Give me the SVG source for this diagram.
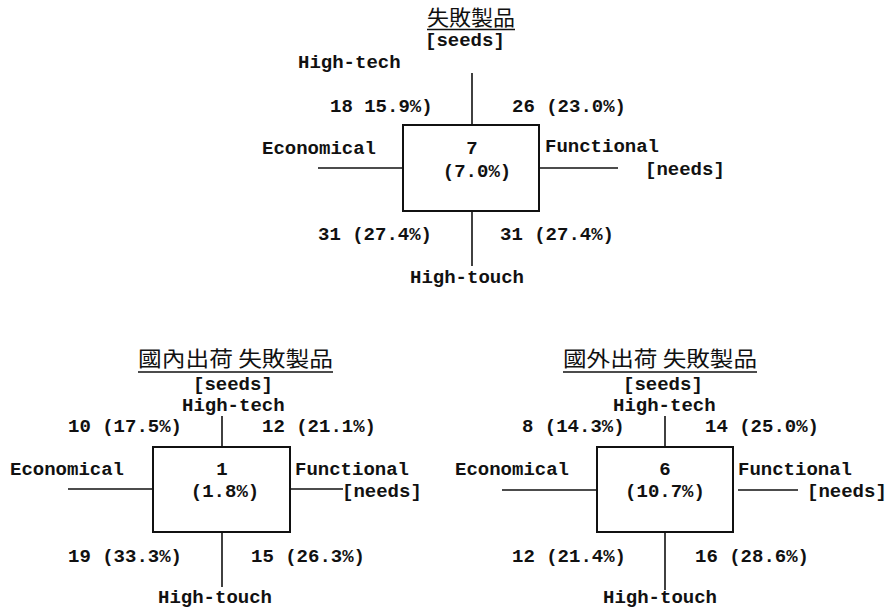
<svg xmlns="http://www.w3.org/2000/svg" width="887" height="609" viewBox="0 0 887 609">
<style>
.t{font-family:"Liberation Mono","DejaVu Sans Mono",monospace;font-size:19px;font-weight:bold;fill:#111}
.c{font-family:"Noto Sans CJK JP","Noto Sans CJK TC",sans-serif;font-size:21px;fill:#111}
.m{text-anchor:middle}
.box{fill:#fff;stroke:#111;stroke-width:2}
.ln{stroke:#111;stroke-width:1.6;fill:none}
</style>
<rect width="887" height="609" fill="#fff"/>

<g id="top">
<g id="top-title">
<text class="c" x="427" y="25" textLength="88" lengthAdjust="spacingAndGlyphs">失敗製品</text>
<line class="ln" x1="427" y1="29.5" x2="515" y2="29.5"/>
</g>
<g id="top-box">
<rect class="box" x="403" y="125" width="136" height="86"/>
<text class="t m" x="472" y="154">7</text>
<text class="t m" x="477" y="177">(7.0%)</text>
</g>
<g id="top-labels">
<text class="t" x="425" y="46">[seeds]</text>
<text class="t" x="298" y="68">High-tech</text>
<text class="t" x="330" y="112">18 15.9%)</text>
<text class="t" x="512" y="112">26 (23.0%)</text>
<text class="t" x="262" y="154">Economical</text>
<text class="t" x="545" y="152">Functional</text>
<text class="t" x="645" y="175">[needs]</text>
<text class="t" x="318" y="240">31 (27.4%)</text>
<text class="t" x="500" y="240">31 (27.4%)</text>
<text class="t" x="410" y="283">High-touch</text>
</g>
</g>

<g id="left">
<g id="left-title">
<text class="c" x="138" y="366" textLength="195" lengthAdjust="spacingAndGlyphs">國內出荷 失敗製品</text>
<line class="ln" x1="138" y1="372" x2="333" y2="372"/>
</g>
<g id="left-box">
<rect class="box" x="153" y="447" width="137" height="85"/>
<text class="t m" x="222" y="475">1</text>
<text class="t m" x="225" y="497">(1.8%)</text>
</g>
<g id="left-labels">
<text class="t" x="193" y="390">[seeds]</text>
<text class="t" x="182" y="411">High-tech</text>
<text class="t" x="68" y="432">10 (17.5%)</text>
<text class="t" x="262" y="432">12 (21.1%)</text>
<text class="t" x="10" y="475">Economical</text>
<text class="t" x="295" y="475">Functional</text>
<text class="t" x="342" y="497">[needs]</text>
<text class="t" x="68" y="562">19 (33.3%)</text>
<text class="t" x="251" y="562">15 (26.3%)</text>
<text class="t" x="158" y="603">High-touch</text>
</g>
</g>

<g id="right">
<g id="right-title">
<text class="c" x="563" y="366" textLength="194" lengthAdjust="spacingAndGlyphs">國外出荷 失敗製品</text>
<line class="ln" x1="563" y1="372" x2="757" y2="372"/>
</g>
<g id="right-box">
<rect class="box" x="597" y="447" width="136" height="85"/>
<text class="t m" x="665" y="475">6</text>
<text class="t m" x="665" y="497">(10.7%)</text>
</g>
<g id="right-labels">
<text class="t" x="623" y="390">[seeds]</text>
<text class="t" x="613" y="411">High-tech</text>
<text class="t" x="522" y="432">8 (14.3%)</text>
<text class="t" x="705" y="432">14 (25.0%)</text>
<text class="t" x="455" y="475">Economical</text>
<text class="t" x="738" y="475">Functional</text>
<text class="t" x="807" y="497">[needs]</text>
<text class="t" x="512" y="562">12 (21.4%)</text>
<text class="t" x="695" y="562">16 (28.6%)</text>
<text class="t" x="603" y="603">High-touch</text>
</g>
</g>

<g id="connectors">
<line class="ln" x1="472" y1="73" x2="472" y2="125"/>
<line class="ln" x1="472" y1="211" x2="472" y2="266"/>
<line class="ln" x1="318" y1="168" x2="403" y2="168"/>
<line class="ln" x1="539" y1="168" x2="618" y2="168"/>

<line class="ln" x1="222" y1="416" x2="222" y2="447"/>
<line class="ln" x1="222" y1="532" x2="222" y2="587"/>
<line class="ln" x1="68" y1="489" x2="153" y2="489"/>
<line class="ln" x1="290" y1="489" x2="343" y2="489"/>

<line class="ln" x1="665" y1="416" x2="665" y2="447"/>
<line class="ln" x1="665" y1="532" x2="665" y2="590"/>
<line class="ln" x1="502" y1="490" x2="597" y2="490"/>
<line class="ln" x1="738" y1="490" x2="798" y2="490"/>
</g>
</svg>
